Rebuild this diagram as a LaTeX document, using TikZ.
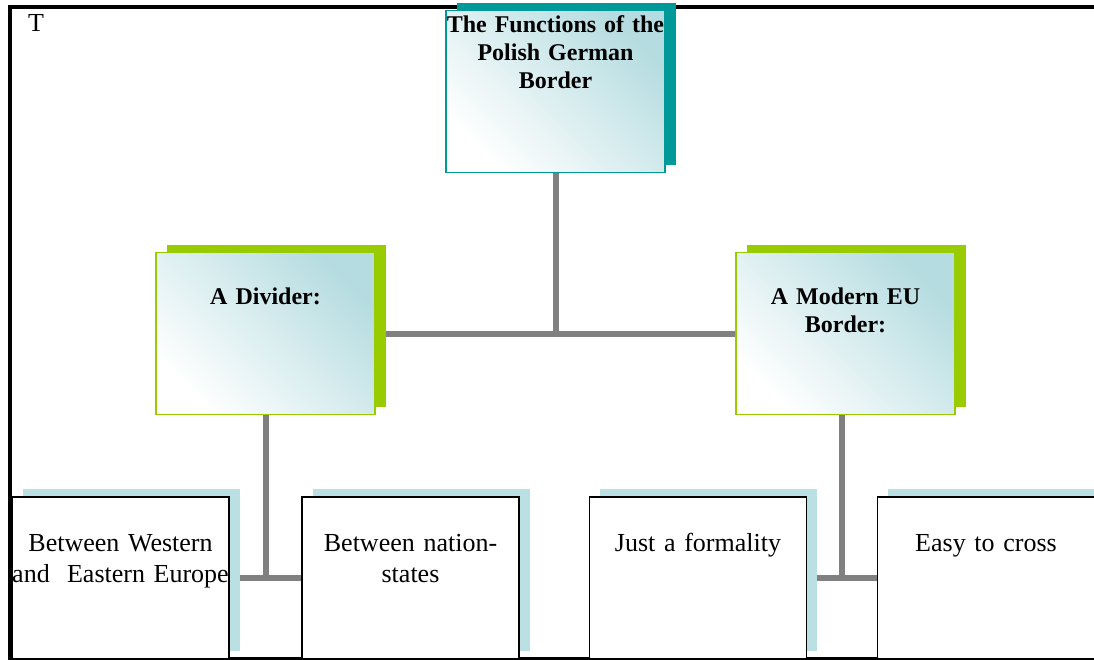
\documentclass[tikz,border=0pt]{standalone}
\usepackage{fontspec}
\setmainfont{Liberation Serif}
\usetikzlibrary{backgrounds,shadows,calc}
\definecolor{rootteal}{HTML}{009999}
\definecolor{midgreen}{HTML}{99CC00}
\definecolor{leafblue}{HTML}{BBE0E3}
\definecolor{paleteal}{HTML}{B5DCE0}
\definecolor{linkgray}{HTML}{808080}
\begin{document}
\begin{tikzpicture}
      [x=1pt,y=-1pt,
       card/.style={anchor=north,inner sep=0pt,text width=217pt,align=center},
       headbox/.style={card,text width=219pt,line width=1.2pt,
         top color=paleteal,bottom color=white,shading angle=-45,
         font=\fontsize{24}{28}\selectfont\bfseries},
       rootbox/.style={headbox,draw=rootteal,text height=22pt,text depth=140pt,
         general shadow={fill=rootteal,shadow xshift=11pt,shadow yshift=8pt}},
       midbox/.style={headbox,draw=midgreen,text height=52pt,text depth=110pt,
         general shadow={fill=midgreen,shadow xshift=11pt,shadow yshift=8pt}},
       leafbox/.style={card,draw=black,line width=1.5pt,fill=white,
         text height=55pt,text depth=107pt,font=\fontsize{26}{31}\selectfont,
         general shadow={fill=leafblue,shadow xshift=10.5pt,shadow yshift=7.5pt}},
       link/.style={draw=linkgray,line width=6pt}]
      \useasboundingbox (0,0) rectangle (1094,660);
      \node[rootbox] (root) at (555.5,10) {The Functions of the\\Polish German\\Border};
      \node[midbox] (divider) at (265.5,252) {A Divider:};
      \node[midbox] (modern) at (845.5,252) {A Modern EU\\Border:};
      \node[leafbox] (westeast) at (120.5,496) {Between Western\\and~ Eastern Europe};
      \node[leafbox] (nations) at (410.5,496) {Between nation-\\states};
      \node[leafbox] (formal) at (698,496) {Just a formality};
      \node[leafbox] (easy) at (986,496) {Easy to cross};
      \node[anchor=base west,inner sep=0pt,font=\fontsize{26}{31}\selectfont] (tmark) at (28,32) {T};

      \begin{scope}[on background layer]
        % frame
        \draw[line width=4pt] (1094,7) -- (9.5,7) -- (9.5,660);
        \draw[line width=3pt] (9.5,658.5) -- (1094,658.5);
        % tree links
        \coordinate (leftfork) at ($(westeast)!.5!(nations)$);
        \coordinate (rightfork) at ($(formal)!.5!(easy)$);
        \draw[link] (root) -- (root |- divider);
        \draw[link] (divider) -- (modern);
        \draw[link] (leftfork) -- (leftfork |- divider.south);
        \draw[link] (westeast) -- (nations);
        \draw[link] (rightfork) -- (rightfork |- modern.south);
        \draw[link] (formal) -- (easy);
      \end{scope}
    \end{tikzpicture}
\end{document}
